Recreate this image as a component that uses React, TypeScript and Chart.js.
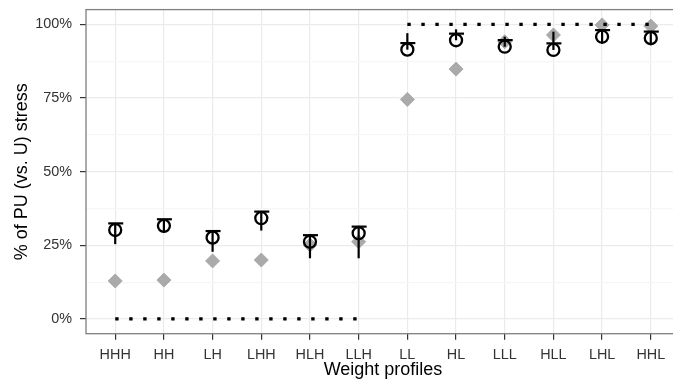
import React, { useEffect, useRef } from 'react';
import { Chart, registerables } from 'chart.js';

Chart.register(...registerables);

const categories = ['HHH', 'HH', 'LH', 'LHH', 'HLH', 'LLH', 'LL', 'HL', 'LLL', 'HLL', 'LHL', 'HHL'];
const puStress = [12.9, 13.2, 19.7, 20.0, 25.1, 26.2, 74.5, 84.8, 94.1, 96.4, 99.8, 99.4];
const circleValues = [30.2, 31.6, 27.6, 34.2, 26.2, 29.1, 91.4, 94.6, 92.4, 91.3, 95.8, 95.3];
const stickHigh = [32.5, 33.8, 30.2, 36.2, 28.7, 31.6, 97.0, 98.3, 95.8, 97.5, 97.8, 97.3];
const stickLow = [25.4, 29.2, 22.8, 30.0, 20.6, 20.6, 91.4, 94.6, 92.4, 91.3, 93.4, 92.9];
const lowGroupEnd = 5;
const lowReference = 0;
const highReference = 100;
const yMajorTicks = [0, 25, 50, 75, 100];
const yMinorTicks = [12.5, 37.5, 62.5, 87.5];

const FONT = "'Liberation Sans', Arial, Helvetica, sans-serif";

const glyphPlugin = {
  id: 'glyphs',
  afterDatasetsDraw(chart: any) {
    const { ctx, scales } = chart;
    const x = scales.x;
    const y = scales.y;
    ctx.save();
    ctx.strokeStyle = '#000';
    ctx.lineWidth = 2.2;
    ctx.lineCap = 'butt';
    categories.forEach((_, i) => {
      const px = x.getPixelForValue(i);
      const cy = y.getPixelForValue(circleValues[i]);
      const barY = cy - 6.6;
      ctx.beginPath();
      ctx.moveTo(px - 7, barY);
      ctx.lineTo(px + 8, barY);
      ctx.stroke();
      ctx.beginPath();
      ctx.moveTo(px, y.getPixelForValue(stickHigh[i]));
      ctx.lineTo(px, y.getPixelForValue(stickLow[i]));
      ctx.stroke();
    });
    ctx.restore();
  },
};

const borderPlugin = {
  id: 'panelBorder',
  afterDraw(chart: any) {
    const { ctx, chartArea } = chart;
    ctx.save();
    ctx.strokeStyle = '#7f7f7f';
    ctx.lineWidth = 1.3;
    ctx.strokeRect(chartArea.left, chartArea.top, chartArea.right - chartArea.left, chartArea.bottom - chartArea.top);
    ctx.restore();
  },
};

export default function App() {
  const ref = useRef<HTMLCanvasElement | null>(null);

  useEffect(() => {
    document.body.style.margin = '0';
    document.body.style.overflow = 'hidden';
    if (!ref.current) return;
    const lowIdx = categories.map((_, i) => i).filter((i) => i <= lowGroupEnd);
    const highIdx = categories.map((_, i) => i).filter((i) => i > lowGroupEnd);
    const isMajor = (v: number) => yMajorTicks.includes(v);

    const chart = new Chart(ref.current, {
      type: 'line',
      data: {
        datasets: [
          {
            label: 'PU stress',
            data: puStress.map((v, i) => ({ x: i, y: v })),
            showLine: false,
            pointStyle: 'rectRot',
            pointRadius: 7,
            pointBackgroundColor: '#aaaaaa',
            pointBorderColor: '#aaaaaa',
            pointBorderWidth: 1,
            order: 3,
          },
          {
            label: 'low ref',
            data: [lowIdx[0], lowIdx[lowIdx.length - 1]].map((i) => ({ x: i, y: lowReference })),
            borderColor: '#000',
            borderWidth: 3.2,
            borderDash: [3.4, 10.6],
            borderCapStyle: 'butt',
            pointRadius: 0,
            order: 2,
          },
          {
            label: 'high ref',
            data: [highIdx[0], highIdx[highIdx.length - 1]].map((i) => ({ x: i, y: highReference })),
            borderColor: '#000',
            borderWidth: 3.2,
            borderDash: [3.4, 10.6],
            borderCapStyle: 'butt',
            pointRadius: 0,
            order: 2,
          },
          {
            label: 'circles',
            data: circleValues.map((v, i) => ({ x: i, y: v })),
            showLine: false,
            pointStyle: 'circle',
            pointRadius: 6,
            pointBorderWidth: 2.3,
            pointBorderColor: '#000',
            pointBackgroundColor: 'rgba(0,0,0,0)',
            order: 1,
          },
        ],
      },
      options: {
        animation: false,
        responsive: false,
        events: [],
        layout: { padding: { top: 9.6, right: 10, left: 0, bottom: 0 } },
        plugins: { legend: { display: false }, tooltip: { enabled: false } },
        scales: {
          x: {
            type: 'linear',
            min: -0.6,
            max: categories.length - 0.4,
            afterBuildTicks: (s: any) => {
              s.ticks = categories.map((_, i) => ({ value: i }));
            },
            afterFit: (s: any) => {
              s.height = 48.3;
              s.paddingLeft = 0;
              s.paddingRight = 0;
            },
            border: { display: false },
            grid: { color: '#ebebeb', lineWidth: 1.2, tickColor: '#333', tickLength: 6, tickWidth: 1.2 },
            ticks: {
              autoSkip: false,
              maxRotation: 0,
              padding: 7,
              color: '#333',
              font: { family: FONT, size: 14.4 },
              callback: (v: any) => categories[v as number] ?? '',
            },
            title: {
              display: true,
              text: 'Weight profiles',
              color: '#000',
              font: { family: FONT, size: 18 },
              padding: { top: 0, bottom: 1 },
            },
          },
          y: {
            type: 'linear',
            min: -5,
            max: 105,
            afterBuildTicks: (s: any) => {
              s.ticks = [...yMajorTicks, ...yMinorTicks].sort((a, b) => a - b).map((v) => ({ value: v }));
            },
            afterFit: (s: any) => {
              s.width = 86;
              s.paddingTop = 0;
              s.paddingBottom = 0;
            },
            border: { display: false },
            grid: {
              color: (c: any) => (isMajor(c.tick?.value) ? '#ebebeb' : '#f6f6f6'),
              lineWidth: 1.2,
              tickColor: (c: any) => (isMajor(c.tick?.value) ? '#333' : 'rgba(0,0,0,0)'),
              tickLength: 6,
              tickWidth: 1.2,
            },
            ticks: {
              padding: 8,
              color: '#333',
              font: { family: FONT, size: 14.4 },
              callback: (v: any) => (isMajor(v as number) ? `${v}%` : ''),
            },
            title: {
              display: true,
              text: '% of PU (vs. U) stress',
              color: '#000',
              font: { family: FONT, size: 18 },
              padding: { top: 11, bottom: 0 },
            },
          },
        },
      },
      plugins: [glyphPlugin, borderPlugin],
    });
    return () => chart.destroy();
  }, []);

  return (
    <div style={{ position: 'fixed', left: 0, top: 0, width: 690, height: 382, overflow: 'hidden' }}>
      <canvas ref={ref} width={690} height={382} />
    </div>
  );
}
